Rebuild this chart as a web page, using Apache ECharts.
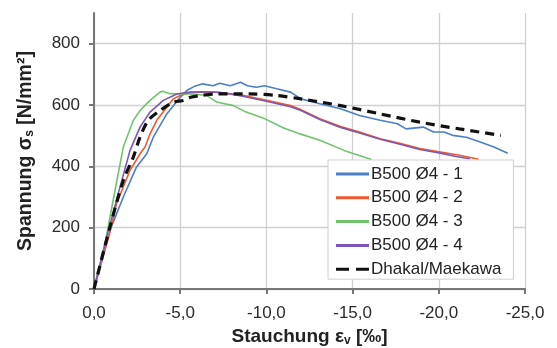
<!DOCTYPE html>
<html>
<head>
<meta charset="utf-8">
<script src="https://cdn.jsdelivr.net/npm/echarts@6/dist/echarts.min.js"></script>
<style>
  html, body { margin: 0; padding: 0; background: #fff; }
  #chart { width: 557px; height: 348px; }
</style>
</head>
<body>
<div id="chart"></div>
<script>
// Stress–strain curves of B500 Ø4 bars under compression, with the Dhakal/Maekawa model.
const seriesNames = ['B500 Ø4 - 1', 'B500 Ø4 - 2', 'B500 Ø4 - 3', 'B500 Ø4 - 4', 'Dhakal/Maekawa'];

// Strain [‰] (compression negative) and stress [N/mm²] for each test
const strain1 = [0, -0.93, -1.70, -2.47, -3.06, -3.44, -4.22, -5.0, -5.4, -5.8, -6.3, -6.9, -7.3, -7.9, -8.5, -8.9, -9.4, -9.9, -10.6, -11.4, -12.0, -13.1, -14.3, -15.4, -16.6, -17.6, -18.1, -19.1, -19.7, -20.3, -20.8, -21.6, -22.4, -23.2, -24.0];
const stress1 = [0, 192, 300, 398, 441, 495, 571, 625, 648, 660, 669, 663, 671, 663, 674, 663, 658, 663, 653, 642, 620, 604, 588, 566, 550, 539, 522, 528, 512, 512, 501, 495, 479, 463, 443];

const strain2 = [0, -0.9, -1.31, -2.09, -2.67, -2.96, -3.25, -3.64, -4.22, -4.6, -5.0, -5.6, -6.2, -7.1, -8.7, -10.0, -11.4, -12.0, -13.1, -14.3, -15.4, -16.6, -17.8, -18.9, -20.1, -21.2, -22.3];
const stress2 = [0, 180, 279, 387, 441, 463, 506, 550, 593, 620, 631, 640, 642, 642, 631, 615, 598, 585, 555, 530, 512, 490, 474, 458, 447, 436, 423];

const strain3 = [0, -0.64, -1.22, -1.70, -2.28, -2.67, -3.25, -3.83, -4.0, -4.4, -5.5, -6.5, -7.1, -8.1, -8.7, -9.8, -11.0, -12.0, -13.1, -14.5, -16.1];
const stress3 = [0, 149, 322, 463, 550, 582, 615, 642, 645, 637, 636, 632, 610, 598, 580, 558, 525, 505, 485, 452, 422];

const strain4 = [0, -0.74, -1.51, -2.09, -2.67, -3.25, -4.02, -4.8, -5.57, -6.5, -7.5, -8.7, -10.0, -11.4, -12.0, -13.1, -14.3, -15.4, -16.6, -17.8, -18.9, -20.1, -21.0, -21.8];
const stress4 = [0, 170, 333, 452, 528, 577, 615, 636, 642, 643, 640, 628, 612, 594, 582, 553, 527, 509, 488, 471, 455, 443, 432, 425];

const strainModel = [0, -0.93, -1.70, -2.28, -2.67, -3.15, -3.83, -4.6, -5.2, -5.6, -6.2, -7.1, -9.0, -10.6, -12.0, -14.3, -16.6, -18.9, -21.2, -23.6];
const stressModel = [0, 203, 354, 430, 495, 550, 582, 609, 615, 625, 631, 636, 636, 631, 620, 598, 571, 544, 522, 501];

// Axis ticks
const xLabelValues = [0, -5, -10, -15, -20, -25];
const yLabelValues = [0, 200, 400, 600, 800];

const colors = ['#4a7ec9', '#ee5a30', '#70c46c', '#7d55b5', '#111111'];

// Legend keys: a solid bar for measured curves, two dashes for the model
const solidKey = 'rect';
const dashedKey = 'path://M0,0H13V3H0Z M20,0H33V3H20Z';

function zip(xs, ys) { return xs.map((x, i) => [x, ys[i]]); }

const curves = [
  zip(strain1, stress1),
  zip(strain2, stress2),
  zip(strain3, stress3),
  zip(strain4, stress4),
  zip(strainModel, stressModel)
];

const FONT = '"Liberation Sans", Arial, sans-serif';

const chart = echarts.init(document.getElementById('chart'), null, { renderer: 'canvas' });

chart.setOption({
  animation: false,
  backgroundColor: '#ffffff',
  grid: { left: 94, top: 13, right: 32, bottom: 59, outerBoundsMode: 'none' },
  xAxis: {
    type: 'value',
    min: -25,
    max: 0,
    interval: 2.5,
    inverse: true,
    name: 'Stauchung ε{sub|v} [‰]',
    nameLocation: 'middle',
    nameGap: 38,
    nameTextStyle: {
      fontFamily: FONT, fontSize: 19, fontWeight: 'bold', color: '#222',
      rich: { sub: { fontFamily: FONT, fontSize: 12, fontWeight: 'bold', color: '#222', padding: [8, 0, 0, 0] } }
    },
    axisLine: { show: true, onZero: false, lineStyle: { color: '#777', width: 2 } },
    axisTick: { show: true, customValues: xLabelValues, length: 5, lineStyle: { color: '#777', width: 2 } },
    axisLabel: {
      customValues: xLabelValues,
      margin: 16,
      fontFamily: FONT, fontSize: 17, color: '#2a2a2a',
      formatter: v => v.toFixed(1).replace('.', ',')
    },
    splitLine: { show: true, lineStyle: { color: '#d0d0d0', width: 1.3 } }
  },
  yAxis: {
    type: 'value',
    min: 0,
    max: 900,
    interval: 100,
    name: 'Spannung σ{sub|s} [N/mm²]',
    nameLocation: 'middle',
    nameRotate: 90,
    nameGap: 58,
    nameTextStyle: {
      fontFamily: FONT, fontSize: 19.5, fontWeight: 'bold', color: '#222',
      rich: { sub: { fontFamily: FONT, fontSize: 12, fontWeight: 'bold', color: '#222', padding: [8, 0, 0, 0] } }
    },
    axisLine: { show: true, lineStyle: { color: '#777', width: 2 } },
    axisTick: { show: true, customValues: yLabelValues, length: 5, lineStyle: { color: '#777', width: 2 } },
    axisLabel: {
      customValues: yLabelValues,
      margin: 14,
      fontFamily: FONT, fontSize: 17, color: '#2a2a2a'
    },
    splitLine: { show: true, lineStyle: { color: '#d0d0d0', width: 1.3 } }
  },
  legend: {
    orient: 'vertical',
    left: 328,
    top: 160,
    padding: [5.5, 12, 1.5, 8],
    itemGap: 6.8,
    itemWidth: 33,
    itemHeight: 3,
    backgroundColor: '#ffffff',
    borderColor: '#cfcfcf',
    borderWidth: 1,
    data: seriesNames.map((n, i) => ({ name: n, icon: i === 4 ? dashedKey : solidKey })),
    textStyle: { fontFamily: FONT, fontSize: 17, lineHeight: 17, color: '#222', padding: [0, 0, 0, -3] }
  },
  series: curves.map((data, i) => ({
    name: seriesNames[i],
    type: 'line',
    data: data,
    symbol: 'none',
    smooth: i === 4 ? 0.3 : false,
    z: i === 4 ? 5 : 3,
    lineStyle: i === 4
      ? { color: colors[i], width: 3.2, type: [9, 6] }
      : { color: colors[i], width: 1.6 },
    itemStyle: { color: colors[i] }
  }))
});
</script>
</body>
</html>
